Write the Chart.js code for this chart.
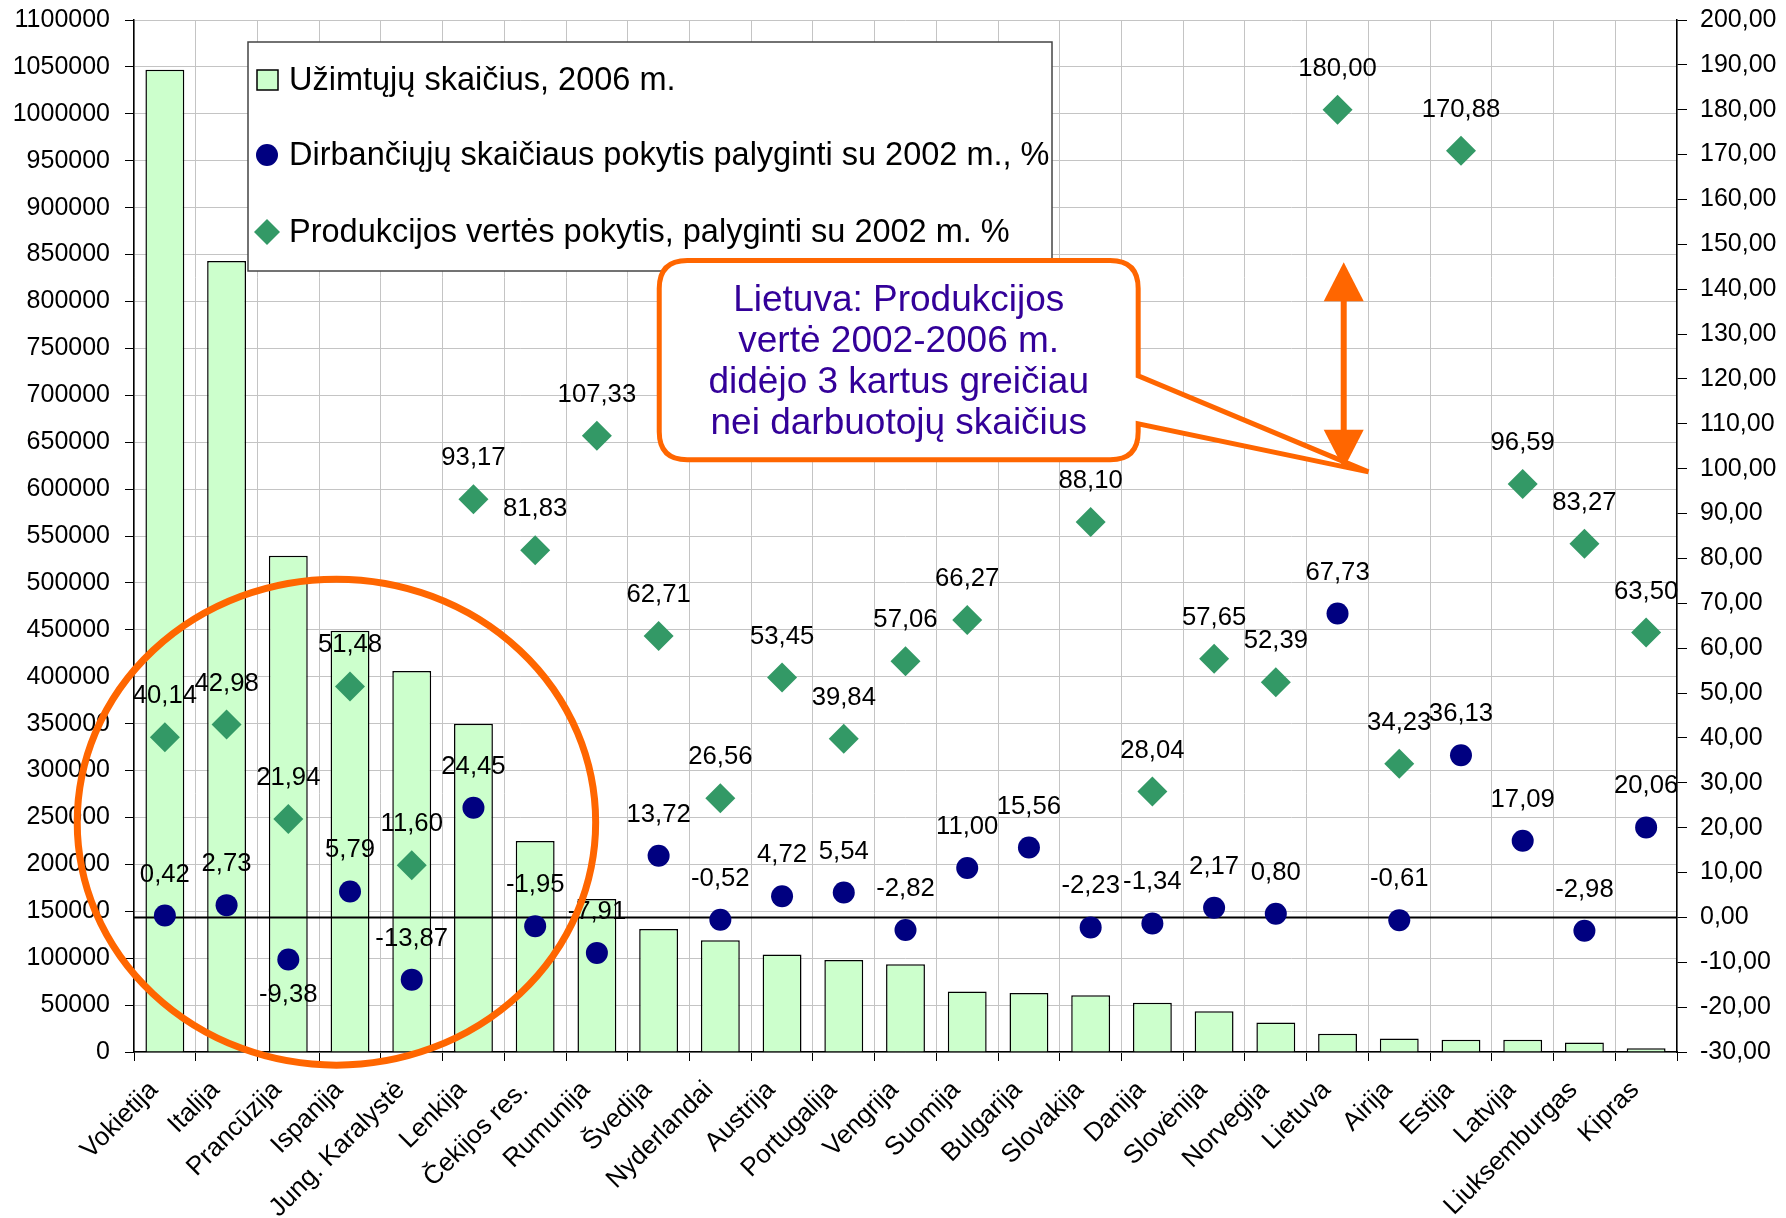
<!DOCTYPE html>
<html>
<head>
<meta charset="utf-8">
<script src="https://cdn.jsdelivr.net/npm/chart.js@4.4.0/dist/chart.umd.min.js"></script>
<style>
  html, body { margin: 0; padding: 0; background: #fff; }
  #wrap { width: 1786px; height: 1218px; }
</style>
</head>
<body>
<div id="wrap"><canvas id="chart" width="1786" height="1218"></canvas></div>
<script>
// --- duomenys ---
const categories = ['Vokietija', 'Italija', 'Prancūzija', 'Ispanija', 'Jung. Karalystė', 'Lenkija',
  'Čekijos res.', 'Rumunija', 'Švedija', 'Nyderlandai', 'Austrija', 'Portugalija', 'Vengrija',
  'Suomija', 'Bulgarija', 'Slovakija', 'Danija', 'Slovėnija', 'Norvegija', 'Lietuva', 'Airija',
  'Estija', 'Latvija', 'Liuksemburgas', 'Kipras'];

const employed2006 = [1047000, 843000, 529000, 449000, 406000, 350000, 225000, 163000, 131000,
  119000, 104000, 98000, 93500, 64500, 63000, 60500, 52500, 43500, 31500, 19500, 14500, 13000,
  13000, 10000, 4000];

const employmentChange = [0.42, 2.73, -9.38, 5.79, -13.87, 24.45, -1.95, -7.91, 13.72, -0.52, 4.72,
  5.54, -2.82, 11.00, 15.56, -2.23, -1.34, 2.17, 0.80, 67.73, -0.61, 36.13, 17.09, -2.98, 20.06];

const productionChange = [40.14, 42.98, 21.94, 51.48, 11.60, 93.17, 81.83, 107.33, 62.71, 26.56,
  53.45, 39.84, 57.06, 66.27, null, 88.10, 28.04, 57.65, 52.39, 180.00, 34.23, 170.88, 96.59,
  83.27, 63.50];

const seriesNames = ['Užimtųjų skaičius, 2006 m.',
  'Dirbančiųjų skaičiaus pokytis palyginti su 2002 m., %',
  'Produkcijos vertės pokytis, palyginti su 2002 m. %'];

// ašys
const leftMax = 1100000, leftStep = 50000;
const rightMin = -30, rightMax = 200, rightStep = 10;

const calloutLines = ['Lietuva: Produkcijos', 'vertė 2002-2006 m.',
  'didėjo 3 kartus greičiau', 'nei darbuotojų skaičius'];

const FONT = "'Liberation Sans', Arial, sans-serif";
const ORANGE = '#FF6600';

function fmt(v) {
  return v.toFixed(2).replace('.', ',');
}

// etiketės virš taškų
const valueLabels = {
  id: 'valueLabels',
  afterDatasetsDraw(chart) {
    const ctx = chart.ctx;
    ctx.save();
    ctx.font = '25.7px ' + FONT;
    ctx.fillStyle = '#000';
    ctx.textAlign = 'center';
    ctx.textBaseline = 'middle';
    chart.data.datasets.forEach((ds, i) => {
      if (ds.type !== 'line') return;
      const meta = chart.getDatasetMeta(i);
      meta.data.forEach((pt, j) => {
        const v = ds.data[j];
        if (v === null || v === undefined) return;
        const below = (ds.labelsBelow || []).includes(categories[j]);
        ctx.fillText(fmt(v), pt.x, pt.y + (below ? 35 : -41));
      });
    });
    ctx.restore();
  }
};

// nulio linija virš stulpelių
const zeroLine = {
  id: 'zeroLine',
  afterDatasetDraw(chart, args) {
    if (args.meta.type !== 'bar') return;
    const { ctx, chartArea, scales } = chart;
    const y = Math.round(scales.y1.getPixelForValue(0)) + 0.5;
    ctx.save();
    ctx.strokeStyle = '#000';
    ctx.lineWidth = 2;
    ctx.beginPath();
    ctx.moveTo(chartArea.left, y);
    ctx.lineTo(chartArea.right, y);
    ctx.stroke();
    ctx.restore();
  }
};

// legenda, apskritimas ir paaiškinimas
const extras = {
  id: 'extras',
  afterDraw(chart) {
    const { ctx, chartArea, scales } = chart;
    const x = scales.x, y = scales.y, y1 = scales.y1;

    // legenda
    const lx = chartArea.left + 114, ly = chartArea.top + 22, lw = 804, lh = 229;
    ctx.save();
    ctx.fillStyle = '#fff';
    ctx.fillRect(lx, ly, lw, lh);
    ctx.strokeStyle = '#444';
    ctx.lineWidth = 1.5;
    ctx.strokeRect(lx, ly, lw, lh);
    ctx.font = '32.5px ' + FONT;
    ctx.fillStyle = '#000';
    ctx.textBaseline = 'middle';
    ctx.textAlign = 'left';
    const rows = [ly + 38, ly + 113, ly + 190];
    const mx = lx + 19;
    // stulpelis
    ctx.fillStyle = '#CCFFCC';
    ctx.fillRect(mx - 10, rows[0] - 10, 21, 20);
    ctx.strokeStyle = '#000';
    ctx.lineWidth = 1.5;
    ctx.strokeRect(mx - 10, rows[0] - 10, 21, 20);
    // apskritimas
    ctx.fillStyle = '#000080';
    ctx.beginPath();
    ctx.arc(mx, rows[1], 11, 0, Math.PI * 2);
    ctx.fill();
    // rombas
    ctx.fillStyle = '#339966';
    ctx.beginPath();
    ctx.moveTo(mx, rows[2] - 13);
    ctx.lineTo(mx + 13, rows[2]);
    ctx.lineTo(mx, rows[2] + 13);
    ctx.lineTo(mx - 13, rows[2]);
    ctx.closePath();
    ctx.fill();
    ctx.fillStyle = '#000';
    seriesNames.forEach((t, i) => ctx.fillText(t, lx + 41, rows[i] + 1));
    ctx.restore();

    // oranžinis apskritimas
    const ex0 = x.getPixelForValue(-1.42), ex1 = x.getPixelForValue(6.98);
    const ey0 = y.getPixelForValue(504000), ey1 = y.getPixelForValue(-14000);
    ctx.save();
    ctx.strokeStyle = ORANGE;
    ctx.lineWidth = 7;
    ctx.beginPath();
    ctx.ellipse((ex0 + ex1) / 2, (ey0 + ey1) / 2, (ex1 - ex0) / 2, (ey1 - ey0) / 2, 0, 0, Math.PI * 2);
    ctx.stroke();
    ctx.restore();

    // paaiškinimo langelis
    const bx0 = x.getPixelForValue(8.01), bx1 = x.getPixelForValue(15.77);
    const by0 = y1.getPixelForValue(146.4), by1 = y1.getPixelForValue(102.0);
    const r = 28;
    const wA = y1.getPixelForValue(120.7), wB = y1.getPixelForValue(110.0);
    const tipX = x.getPixelForValue(19.5), tipY = y1.getPixelForValue(99.3);
    ctx.save();
    ctx.lineWidth = 5;
    ctx.strokeStyle = ORANGE;
    ctx.fillStyle = '#fff';
    ctx.lineJoin = 'miter';
    ctx.beginPath();
    ctx.moveTo(bx0 + r, by0);
    ctx.lineTo(bx1 - r, by0);
    ctx.quadraticCurveTo(bx1, by0, bx1, by0 + r);
    ctx.lineTo(bx1, wA);
    ctx.lineTo(tipX, tipY);
    ctx.lineTo(bx1, wB);
    ctx.lineTo(bx1, by1 - r);
    ctx.quadraticCurveTo(bx1, by1, bx1 - r, by1);
    ctx.lineTo(bx0 + r, by1);
    ctx.quadraticCurveTo(bx0, by1, bx0, by1 - r);
    ctx.lineTo(bx0, by0 + r);
    ctx.quadraticCurveTo(bx0, by0, bx0 + r, by0);
    ctx.closePath();
    ctx.fill();
    ctx.stroke();
    ctx.font = '37px ' + FONT;
    ctx.fillStyle = '#330099';
    ctx.textAlign = 'center';
    ctx.textBaseline = 'middle';
    const cx = (bx0 + bx1) / 2, cy = (by0 + by1) / 2 + 2;
    calloutLines.forEach((t, i) => ctx.fillText(t, cx, cy + (i - 1.5) * 41));
    ctx.restore();

    // dvipusė rodyklė
    const ax = x.getPixelForValue(19.1);
    const aTop = y1.getPixelForValue(146), aBot = y1.getPixelForValue(100);
    const head = 39, hw = 20;
    ctx.save();
    ctx.strokeStyle = ORANGE;
    ctx.fillStyle = ORANGE;
    ctx.lineWidth = 6;
    ctx.beginPath();
    ctx.moveTo(ax, aTop + head - 2);
    ctx.lineTo(ax, aBot - head + 2);
    ctx.stroke();
    ctx.beginPath();
    ctx.moveTo(ax, aTop);
    ctx.lineTo(ax + hw, aTop + head);
    ctx.lineTo(ax - hw, aTop + head);
    ctx.closePath();
    ctx.fill();
    ctx.beginPath();
    ctx.moveTo(ax, aBot);
    ctx.lineTo(ax + hw, aBot - head);
    ctx.lineTo(ax - hw, aBot - head);
    ctx.closePath();
    ctx.fill();
    ctx.restore();
  }
};

const GRID = '#c4c4c4';

new Chart(document.getElementById('chart'), {
  type: 'bar',
  data: {
    labels: categories,
    datasets: [
      {
        type: 'line',
        label: seriesNames[1],
        data: employmentChange,
        yAxisID: 'y1',
        showLine: false,
        pointStyle: 'circle',
        pointRadius: 11,
        pointBackgroundColor: '#000080',
        pointBorderColor: '#000080',
        pointBorderWidth: 0,
        labelsBelow: ['Prancūzija'],
        order: 1
      },
      {
        type: 'line',
        label: seriesNames[2],
        data: productionChange,
        yAxisID: 'y1',
        showLine: false,
        pointStyle: 'rectRot',
        pointRadius: 15,
        pointBackgroundColor: '#339966',
        pointBorderColor: '#339966',
        pointBorderWidth: 0,
        order: 2
      },
      {
        type: 'bar',
        label: seriesNames[0],
        data: employed2006,
        yAxisID: 'y',
        backgroundColor: '#CCFFCC',
        borderColor: '#000',
        borderWidth: 1.5,
        categoryPercentage: 0.9,
        barPercentage: 0.7,
        order: 3
      }
    ]
  },
  options: {
    responsive: false,
    animation: false,
    layout: { padding: { top: 20, left: 0, right: 0, bottom: 0 } },
    plugins: {
      legend: { display: false },
      tooltip: { enabled: false }
    },
    scales: {
      x: {
        offset: true,
        grid: { offset: true, color: GRID, tickLength: 9, tickColor: '#000' },
        border: { color: '#000', width: 1.5 },
        ticks: {
          autoSkip: false, maxRotation: 45, minRotation: 45, padding: 14, labelOffset: -11,
          color: '#000', font: { family: FONT, size: 26 }
        },
        afterFit: s => { s.height = 166; }
      },
      y: {
        position: 'left',
        min: 0, max: leftMax,
        grid: { color: GRID, tickLength: 9, tickColor: '#000' },
        border: { color: '#000', width: 1.5 },
        ticks: {
          stepSize: leftStep, autoSkip: false, padding: 15,
          color: '#000', font: { family: FONT, size: 25 },
          callback: v => String(v)
        },
        afterFit: s => { s.width = 134; s.paddingTop = 0; s.paddingBottom = 0; }
      },
      y1: {
        position: 'right',
        min: rightMin, max: rightMax,
        grid: { drawOnChartArea: false, tickLength: 10, tickColor: '#000' },
        border: { color: '#000', width: 1.5 },
        ticks: {
          stepSize: rightStep, autoSkip: false, padding: 13,
          color: '#000', font: { family: FONT, size: 25 },
          callback: v => fmt(v)
        },
        afterFit: s => { s.width = 109; s.paddingTop = 0; s.paddingBottom = 0; }
      }
    }
  },
  plugins: [zeroLine, valueLabels, extras]
});
</script>
</body>
</html>
